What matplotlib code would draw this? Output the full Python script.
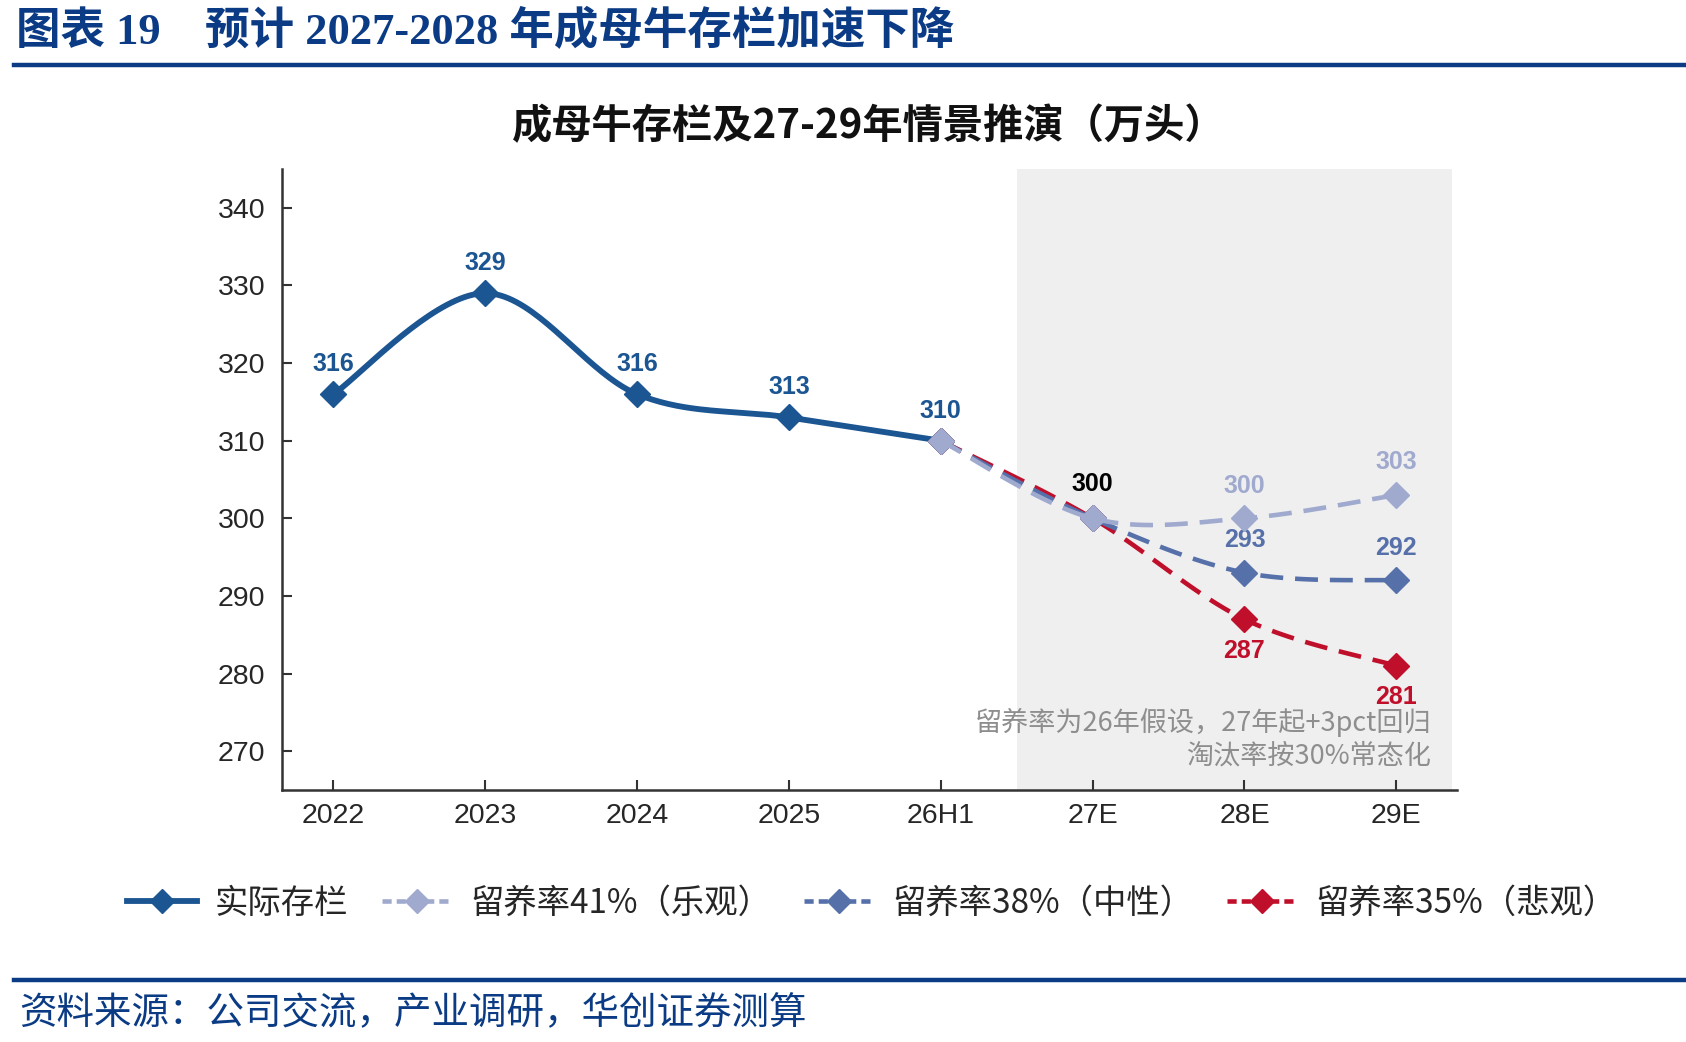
import numpy as np
import matplotlib
matplotlib.use("Agg")
import matplotlib.pyplot as plt
from matplotlib.lines import Line2D

# ---------------- data ----------------
categories = ["2022", "2023", "2024", "2025", "26H1", "27E", "28E", "29E"]
actual = [316, 329, 316, 313, 310]                 # 2022 .. 26H1
scen_x = ["26H1", "27E", "28E", "29E"]
optimistic = [310, 300, 300, 303]   # 留养率41%
neutral = [310, 300, 293, 292]      # 留养率38%
pessimistic = [310, 300, 287, 281]  # 留养率35%
yticks = [270, 280, 290, 300, 310, 320, 330, 340]

CJK = "Noto Sans CJK SC"
LAT = "Liberation Sans"

C_ACT = "#1B5592"
C_OPT = "#A0AACF"
C_NEU = "#5670AA"
C_PES = "#C00F2A"
C_HEAD = "#0B3B84"

fig = plt.figure(figsize=(16.86, 10.42), dpi=100)
ax = fig.add_axes([0.1673, 0.2418, 0.6969, 0.5960])

XPX, YPX = 151.87, 7.77  # pixel per unit (for smoothing shape)


def smooth(xs, ys, n=40, t=1 / 6):
    X = np.asarray(xs, float) * XPX
    Y = np.asarray(ys, float) * YPX
    P = np.column_stack([X, Y])
    out = [P[0]]
    for i in range(len(P) - 1):
        p0 = P[i - 1] if i > 0 else P[i]
        p1 = P[i]
        p2 = P[i + 1]
        p3 = P[i + 2] if i + 2 < len(P) else P[i + 1]
        c1 = p1 + (p2 - p0) * t
        c2 = p2 - (p3 - p1) * t
        s = np.linspace(0, 1, n)[1:, None]
        seg = ((1 - s) ** 3) * p1 + 3 * ((1 - s) ** 2) * s * c1 + 3 * (1 - s) * s ** 2 * c2 + s ** 3 * p2
        out.extend(seg)
    out = np.array(out)
    return out[:, 0] / XPX, out[:, 1] / YPX


idx = {c: i for i, c in enumerate(categories)}
xa = [idx[c] for c in categories[:len(actual)]]
xs = [idx[c] for c in scen_x]

# shaded forecast region
ax.axvspan(4.5, 7.37, ymin=0, ymax=1, color="#EFEFEF", zorder=0, lw=0)

# actual
sx, sy = smooth(xa, actual)
ax.plot(sx, sy, color=C_ACT, lw=4.2, zorder=3, solid_capstyle="round")
ax.plot(xa, actual, ls="none", marker="D", ms=13, color=C_ACT, zorder=4)

series = [(pessimistic, C_PES), (neutral, C_NEU), (optimistic, C_OPT)]
for k, (vals, col) in enumerate(series):
    sx, sy = smooth(xs, vals)
    ax.plot(sx, sy, color=col, lw=3.3, dashes=(5, 2.6), zorder=5 + k)
    ax.plot(xs, vals, ls="none", marker="D", ms=13, color=col, zorder=5 + k)

lab_kw = dict(fontfamily=LAT, fontweight="bold", fontsize=18, ha="center",
              textcoords="offset points")
for x, v in zip(xa, actual):
    ax.annotate(f"{v}", (x, v), xytext=(0, 13), va="bottom", color=C_ACT, **lab_kw)
ax.annotate(f"{optimistic[1]}", (xs[1], optimistic[1]), xytext=(0, 16), va="bottom",
            color="black", **lab_kw)
for x, v in zip(xs[2:], optimistic[2:]):
    ax.annotate(f"{v}", (x, v), xytext=(0, 15), va="bottom", color=C_OPT, **lab_kw)
for x, v in zip(xs[2:], neutral[2:]):
    ax.annotate(f"{v}", (x, v), xytext=(0, 15), va="bottom", color=C_NEU, **lab_kw)
for x, v in zip(xs[2:], pessimistic[2:]):
    ax.annotate(f"{v}", (x, v), xytext=(0, -14), va="top", color=C_PES, **lab_kw)

ax.text(7.23, 273.7, "留养率为26年假设，27年起+3pct回归", ha="right", va="center",
        fontsize=19.5, color="#8E8E8E", fontfamily=[CJK])
ax.text(7.23, 269.4, "淘汰率按30%常态化", ha="right", va="center",
        fontsize=19.5, color="#8E8E8E", fontfamily=[CJK])

ax.set_xlim(-0.338, 7.40)
ax.set_ylim(265, 345)
ax.set_xticks(range(len(categories)))
ax.set_xticklabels(categories)
ax.set_yticks(yticks)
for s in ["top", "right"]:
    ax.spines[s].set_visible(False)
for s in ["left", "bottom"]:
    ax.spines[s].set_color("#333333")
    ax.spines[s].set_linewidth(1.8)
ax.tick_params(axis="both", direction="in", length=7, width=1.5, color="#333333",
               labelsize=20.5, labelcolor="#262626")
ax.tick_params(axis="x", pad=9)
ax.tick_params(axis="y", pad=12)
for lb in ax.get_xticklabels() + ax.get_yticklabels():
    lb.set_fontfamily(LAT)

# chart title
fig.text(0.515, 1 - 127 / 1042, "成母牛存栏及27-29年情景推演（万头）", ha="center", va="center",
         fontsize=29, fontweight="bold", color="#111111", fontfamily=[CJK])

# header
fig.text(16 / 1686, 1 - 32 / 1042, "图表 19    预计 2027-2028 年成母牛存栏加速下降", ha="left", va="center",
         fontsize=32, fontweight="bold", color=C_HEAD, fontfamily=["Liberation Serif", CJK])
fig.add_artist(Line2D([14 / 1686, 1.0], [1 - 65 / 1042] * 2, color=C_HEAD, lw=3.2))
fig.add_artist(Line2D([14 / 1686, 1.0], [1 - 980 / 1042] * 2, color=C_HEAD, lw=3.2))
fig.text(19 / 1686, 1 - 1014 / 1042, "资料来源：公司交流，产业调研，华创证券测算", ha="left", va="center",
         fontsize=27, color=C_HEAD, fontfamily=[CJK])

# legend
handles = [
    Line2D([], [], color=C_ACT, lw=4.2, marker="D", ms=12),
    Line2D([], [], color=C_OPT, lw=3.3, dashes=(2.0, 1.1), marker="D", ms=12),
    Line2D([], [], color=C_NEU, lw=3.3, dashes=(2.0, 1.1), marker="D", ms=12),
    Line2D([], [], color=C_PES, lw=3.3, dashes=(2.0, 1.1), marker="D", ms=12),
]
labels = ["实际存栏", "留养率41%（乐观）", "留养率38%（中性）", "留养率35%（悲观）"]
leg = fig.legend(handles, labels, loc="center", bbox_to_anchor=(0.517, 1 - 903 / 1042), ncol=4,
                 frameon=False, handlelength=2.1, handletextpad=0.55, columnspacing=1.0,
                 prop={"family": [CJK], "size": 24})
for t in leg.get_texts():
    t.set_color("#262626")

fig.savefig("out.png", dpi=100)
